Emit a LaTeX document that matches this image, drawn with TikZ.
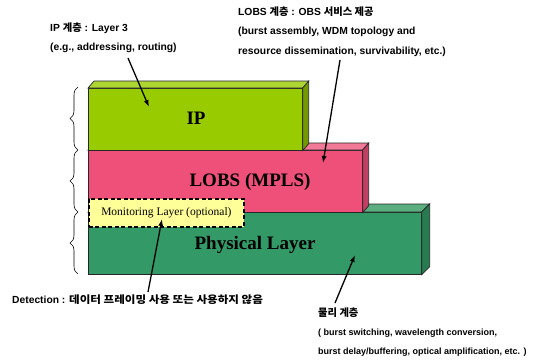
\documentclass[tikz,border=0pt]{standalone}
\usepackage{fontspec}
\setmainfont{Liberation Serif}
\newfontfamily\labfont{Liberation Sans}
\newfontfamily\kr{Noto Sans CJK KR}
\newfontfamily\krwide{Noto Sans CJK KR}[FakeStretch=1.12]
\usetikzlibrary{arrows.meta,decorations.pathreplacing}

\definecolor{ipfront}{HTML}{99CC00}
\definecolor{iptop}{HTML}{AED633}
\definecolor{ipside}{HTML}{739900}
\definecolor{lobsfront}{HTML}{EF5079}
\definecolor{lobstop}{HTML}{F27A98}
\definecolor{lobsside}{HTML}{C23E62}
\definecolor{phyfront}{HTML}{339966}
\definecolor{phytop}{HTML}{5AAE80}
\definecolor{physide}{HTML}{287A50}
\definecolor{monfill}{HTML}{FFFF99}

\tikzset{
  lab/.style={anchor=west, inner sep=0pt, font=\labfont\bfseries\fontsize{10.3}{11}\selectfont},
  smalllab/.style={lab, font=\labfont\bfseries\fontsize{9}{10}\selectfont},
  blocktext/.style={inner sep=0pt, font=\bfseries\fontsize{19}{20}\selectfont},
  face/.style={draw=black!85, line width=0.7pt},
  front/.style={face, anchor=north west, inner sep=0pt},
  pointer/.style={-{Latex[length=7pt,width=5pt]}, line width=1.3pt},
  layerbrace/.style={decorate, decoration={brace, amplitude=8pt}, line width=0.6pt},
}

\begin{document}
\begin{tikzpicture}[x=1pt, y=-1pt]
\useasboundingbox (0,0) rectangle (537,360);

% physical layer slab
\node[front, fill=phyfront, minimum width=333pt, minimum height=62pt] (phy) at (88,212) {};
\filldraw[face, fill=phytop] (phy.north west) -- ++(8,-8) -- ([shift={(8,-8)}]phy.north east) -- (phy.north east) -- cycle;
\filldraw[face, fill=physide] (phy.north east) -- ++(8,-8) -- ([shift={(8,-8)}]phy.south east) -- (phy.south east) -- cycle;

% LOBS slab
\node[front, fill=lobsfront, minimum width=274pt, minimum height=62pt] (lobs) at (88,150) {};
\filldraw[face, fill=lobstop] (lobs.north west) -- ++(6,-7) -- ([shift={(6,-7)}]lobs.north east) -- (lobs.north east) -- cycle;
\filldraw[face, fill=lobsside] (lobs.north east) -- ++(6,-7) -- ([shift={(6,-7)}]lobs.south east) -- (lobs.south east) -- cycle;

% IP slab
\node[front, fill=ipfront, minimum width=214pt, minimum height=62pt] (ip) at (88,88) {};
\filldraw[face, fill=iptop] (ip.north west) -- ++(6,-7) -- ([shift={(6,-7)}]ip.north east) -- (ip.north east) -- cycle;
\filldraw[face, fill=ipside] (ip.north east) -- ++(6,-7) -- ([shift={(6,-7)}]ip.south east) -- (ip.south east) -- cycle;

% slab titles
\node[blocktext] (iptext) at (196,118) {IP};
\node[blocktext] (lobstext) at (250,182) {LOBS (MPLS)};
\node[blocktext] (phytext) at (255,245) {Physical Layer};

% optional monitoring layer
\node[draw, dashed, dash pattern=on 4pt off 2.5pt, line width=1.8pt, fill=monfill,
      anchor=north west, inner sep=0pt, minimum width=155pt, minimum height=28pt,
      font=\fontsize{11.5}{12}\selectfont] (mon) at (88,198) {Monitoring Layer (optional)};

% braces grouping the layers
\coordinate (b1top) at (78,87);
\coordinate (b1bot) at (78,150);
\coordinate (b2bot) at (78,212);
\coordinate (b3bot) at (78,274);
\draw[layerbrace] (b1bot) -- (b1top);
\draw[layerbrace] (b2bot) -- (b1bot);
\draw[layerbrace] (b3bot) -- (b2bot);

% annotations
\node[lab] (iplab1) at (50,28) {IP {\kr 계층} : Layer 3};
\node[lab] (iplab2) at (50,48) {(e.g., addressing, routing)};
\node[lab] (lobslab1) at (238,12) {LOBS {\kr 계층} : OBS {\kr 서비스 제공}};
\node[lab] (lobslab2) at (238,32) {(burst assembly, WDM topology and};
\node[lab] (lobslab3) at (238,52) {resource dissemination, survivability, etc.)};
\node[lab] (detlab) at (12,300) {Detection : {\krwide 데이터 프레이밍 사용 또는 사용하지 않음}};
\node[lab] (phylab1) at (318,313) {{\kr 물리 계층}};
\node[smalllab] (phylab2) at (318,333) {( burst switching, wavelength conversion,};
\node[smalllab] (phylab3) at (318,352) {burst delay/buffering, optical amplification, etc. )};

% pointer arrows
\coordinate (ipfrom) at (128,58);
\coordinate (ipto) at (149,107);
\coordinate (lobsfrom) at (340,60);
\coordinate (lobsto) at (323,163);
\coordinate (detfrom) at (148,292);
\coordinate (detto) at (162,219);
\coordinate (phyfrom) at (335,303);
\coordinate (phyto) at (355,255);
\draw[pointer] (ipfrom) -- (ipto);
\draw[pointer] (lobsfrom) -- (lobsto);
\draw[pointer] (detfrom) -- (detto);
\draw[pointer] (phyfrom) -- (phyto);
\end{tikzpicture}
\end{document}
